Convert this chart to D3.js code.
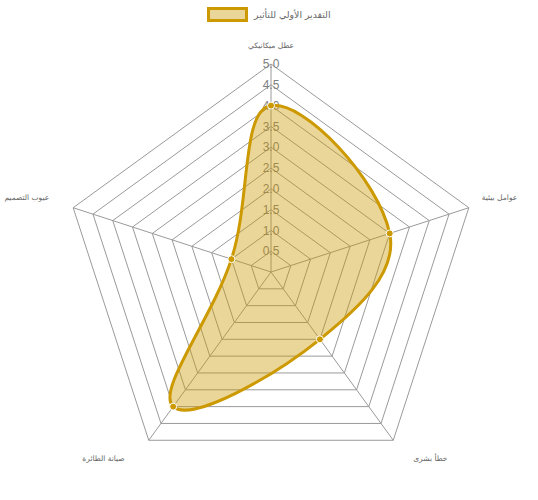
<!DOCTYPE html>
<html><head><meta charset="utf-8">
<script src="https://cdn.jsdelivr.net/npm/d3@7"></script>
<style>html,body{margin:0;padding:0;background:#fff;}svg{display:block;}</style>
</head><body>
<svg id="c" width="538" height="500"></svg>
<script>
const categories = ["عطل ميكانيكي", "عوامل بيئية", "خطأ بشرى", "صيانة الطائرة", "عيوب التصميم"];
const seriesName = "التقدير الأولي للتأثير";
const values = [4.0, 3.0, 2.0, 4.0, 1.0];
const tickValues = [0.5, 1.0, 1.5, 2.0, 2.5, 3.0, 3.5, 4.0, 4.5, 5.0];

const cx = 271, cy = 272, R = 208;
const stroke = "rgb(204,153,0)", fill = "rgba(204,153,0,0.4)", grid = "#9a9a9a";
const svg = d3.select("#c");
const r = d3.scaleLinear().domain([0, 5]).range([0, R]);
const ang = d3.scaleLinear().domain([0, categories.length]).range([0, 2 * Math.PI]);
const pt = (i, v) => [cx + r(v) * Math.sin(ang(i)), cy - r(v) * Math.cos(ang(i))];

const g = svg.append("g");
tickValues.forEach(t => {
  const pts = categories.map((c, i) => pt(i, t));
  g.append("polygon").attr("points", pts.map(p => p.join(",")).join(" "))
    .attr("fill", "none").attr("stroke", grid).attr("stroke-width", 1);
});
categories.forEach((c, i) => {
  const p = pt(i, 5);
  g.append("line").attr("x1", cx).attr("y1", cy).attr("x2", p[0]).attr("y2", p[1])
    .attr("stroke", grid).attr("stroke-width", 1);
});
tickValues.forEach(t => {
  g.append("text").attr("x", cx).attr("y", cy - r(t)).attr("dy", "0.35em")
    .attr("text-anchor", "middle").attr("font-family", "Liberation Sans, Arial, sans-serif")
    .attr("font-size", 12).attr("fill", "#808080").text(t.toFixed(1));
});
categories.forEach((c, i) => {
  const p = pt(i, 5);
  let x, y, anchor;
  if (i === 0) { x = p[0]; y = p[1] - 19; anchor = "middle"; }
  else if (i === 1) { x = p[0] + 13; y = p[1] - 10; anchor = "start"; }
  else if (i === 2) { x = p[0] + 20; y = p[1] + 18; anchor = "start"; }
  else if (i === 3) { x = p[0] - 24; y = p[1] + 18; anchor = "end"; }
  else { x = p[0] - 24; y = p[1] - 10; anchor = "end"; }
  svg.append("text").attr("x", x).attr("y", y).attr("dy", "0.35em")
    .attr("text-anchor", anchor).attr("font-family", "DejaVu Sans, sans-serif")
    .attr("font-size", 7.5).attr("fill", "#666").attr("direction", "ltr").text(c);
});

// Chart.js style spline
const P = values.map((v, i) => pt(i, v));
const n = P.length, t = 0.4;
const ctrl = P.map((cur, i) => {
  const prev = P[(i - 1 + n) % n], next = P[(i + 1) % n];
  const d01 = Math.hypot(cur[0] - prev[0], cur[1] - prev[1]);
  const d12 = Math.hypot(next[0] - cur[0], next[1] - cur[1]);
  const s01 = d01 / (d01 + d12), s12 = d12 / (d01 + d12);
  const fa = t * s01, fb = t * s12;
  return {
    prev: [cur[0] - fa * (next[0] - prev[0]), cur[1] - fa * (next[1] - prev[1])],
    next: [cur[0] + fb * (next[0] - prev[0]), cur[1] + fb * (next[1] - prev[1])]
  };
});
const path = d3.path();
path.moveTo(P[0][0], P[0][1]);
for (let i = 0; i < n; i++) {
  const j = (i + 1) % n;
  path.bezierCurveTo(ctrl[i].next[0], ctrl[i].next[1], ctrl[j].prev[0], ctrl[j].prev[1], P[j][0], P[j][1]);
}
path.closePath();
svg.append("path").attr("d", path.toString()).attr("fill", fill)
  .attr("stroke", stroke).attr("stroke-width", 3).attr("stroke-linejoin", "round");
svg.selectAll("circle.pt").data(P).enter().append("circle")
  .attr("cx", d => d[0]).attr("cy", d => d[1]).attr("r", 3.5)
  .attr("fill", stroke).attr("stroke", "#fff").attr("stroke-width", 1);

const lg = svg.append("g");
lg.append("rect").attr("x", 208.5).attr("y", 8.5).attr("width", 38).attr("height", 12)
  .attr("fill", fill).attr("stroke", stroke).attr("stroke-width", 3);
lg.append("text").attr("x", 254).attr("y", 14.5).attr("dy", "0.35em")
  .attr("text-anchor", "start").attr("font-family", "DejaVu Sans, sans-serif")
  .attr("font-size", 9.3).attr("fill", "#666").attr("direction", "ltr").text(seriesName);
</script>
</body></html>
